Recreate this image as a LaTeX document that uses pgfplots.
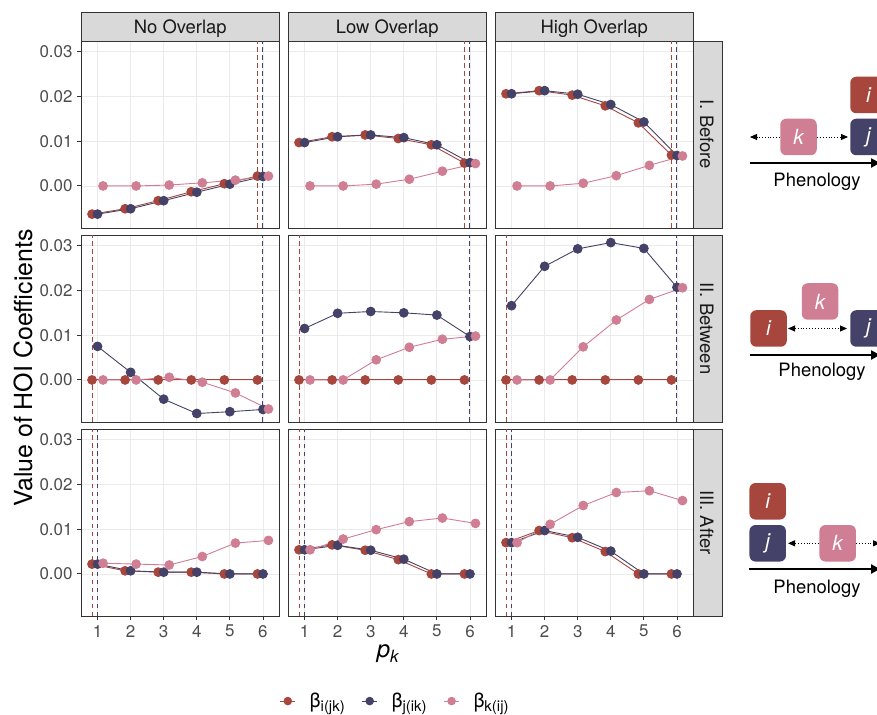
\documentclass[border=0pt]{standalone}
\usepackage{fontspec}
\setmainfont{TeX Gyre Heros}
\usepackage{pgfplots}
\pgfplotsset{compat=1.18}
\usepackage{pgfplotstable}
\usetikzlibrary{arrows.meta}

\definecolor{cI}{RGB}{166,70,60}
\definecolor{cJ}{RGB}{68,66,104}
\definecolor{cK}{RGB}{208,126,148}
\definecolor{gridc}{RGB}{235,235,235}
\definecolor{framec}{RGB}{51,51,51}
\definecolor{stripc}{RGB}{217,217,217}
\definecolor{tickc}{RGB}{77,77,77}

% I. Before
\pgfplotstableread{
x r b k
1 -0.0063 -0.0063 0.0000
2 -0.0051 -0.0051 0.0000
3 -0.0033 -0.0033 0.0002
4 -0.0013 -0.0014 0.0007
5 0.0005 0.0004 0.0013
6 0.0022 0.0021 0.0022
}\tAN
\pgfplotstableread{
x r b k
1 0.0097 0.0097 0.0000
2 0.0110 0.0110 0.0000
3 0.0114 0.0114 0.0004
4 0.0106 0.0108 0.0015
5 0.0092 0.0092 0.0033
6 0.0051 0.0052 0.0050
}\tAL
\pgfplotstableread{
x r b k
1 0.0206 0.0206 0.0000
2 0.0213 0.0213 0.0000
3 0.0203 0.0205 0.0006
4 0.0179 0.0182 0.0023
5 0.0141 0.0143 0.0046
6 0.0069 0.0068 0.0067
}\tAH
% II. Between
\pgfplotstableread{
x r b k
1 0 0.0075 0
2 0 0.0017 0
3 0 -0.0043 0.0006
4 0 -0.0075 -0.0005
5 0 -0.0071 -0.0029
6 0 -0.0066 -0.0065
}\tBN
\pgfplotstableread{
x r b k
1 0 0.0115 0
2 0 0.0149 0
3 0 0.0153 0.0045
4 0 0.0150 0.0073
5 0 0.0145 0.0091
6 0 0.0097 0.0098
}\tBL
\pgfplotstableread{
x r b k
1 0 0.0166 0
2 0 0.0254 0
3 0 0.0293 0.0074
4 0 0.0307 0.0134
5 0 0.0294 0.0180
6 0 0.0207 0.0206
}\tBH
% III. After
\pgfplotstableread{
x r b k
1 0.0022 0.0022 0.0024
2 0.0007 0.0007 0.0022
3 0.0004 0.0004 0.0020
4 0.0004 0.0004 0.0039
5 0 0 0.0069
6 0 0 0.0075
}\tCN
\pgfplotstableread{
x r b k
1 0.0054 0.0054 0.0054
2 0.0065 0.0064 0.0078
3 0.0053 0.0053 0.0099
4 0.0032 0.0033 0.0117
5 0 0 0.0125
6 0 0 0.0113
}\tCL
\pgfplotstableread{
x r b k
1 0.0070 0.0070 0.0070
2 0.0097 0.0097 0.0111
3 0.0081 0.0082 0.0153
4 0.0050 0.0051 0.0182
5 0 0 0.0186
6 0 0 0.0164
}\tCH

\pgfplotsset{
  panel/.style={
    anchor=north west, scale only axis, width=198.5bp, height=187bp,
    xmin=0.5, xmax=6.5, ymin=-0.0094, ymax=0.0324,
    xtick={1,2,3,4,5,6}, ytick={0,0.01,0.02,0.03},
    xticklabels={}, yticklabels={},
    scaled y ticks=false, scaled x ticks=false,
    grid=major, major grid style={draw=gridc, line width=0.8bp},
    axis line style={draw=framec, line width=0.9bp},
    tick align=outside, major tick length=3.8bp,
    xtick pos=lower, ytick pos=left,
    xtick style={draw=none}, ytick style={draw=none},
    /pgf/number format/assume math mode=true,
    ticklabel style={font=\fontsize{17}{17}\selectfont, text=tickc, inner sep=0pt},
    yticklabel style={anchor=east, xshift=-4.5bp},
    xticklabel style={anchor=north, yshift=-5bp},
  },
  leftcol/.style={ytick style={draw=framec, line width=0.9bp}, yticklabels={0.00,0.01,0.02,0.03}},
  bottomrow/.style={xtick style={draw=framec, line width=0.9bp}, xticklabels={1,2,3,4,5,6}},
  sI/.style={color=cI, line width=0.9bp, mark=*, mark size=4.4bp, mark options={solid, fill=cI}},
  sJ/.style={color=cJ, line width=0.9bp, mark=*, mark size=4.4bp, mark options={solid, fill=cJ}},
  sK/.style={color=cK, line width=0.9bp, mark=*, mark size=4.4bp, mark options={solid, fill=cK}},
  vI/.style={color=cI, line width=1bp, dash pattern=on 4.5bp off 3.5bp, forget plot},
  vJ/.style={color=cJ, line width=1bp, dash pattern=on 4.5bp off 3.5bp, forget plot},
}

\newcommand{\panel}[6]{%
\begin{axis}[panel, at={(#1,#2)}, #6]
\addplot[vI] coordinates {(#4,-0.0094) (#4,0.0324)};
\addplot[vJ] coordinates {(#5,-0.0094) (#5,0.0324)};
\addplot[sI] table[x expr=\thisrow{x}-0.1667, y=r] {#3};
\addplot[sJ] table[x=x, y=b] {#3};
\addplot[sK] table[x expr=\thisrow{x}+0.1667, y=k] {#3};
\end{axis}}

\newcommand{\bsub}[1]{\hspace*{14bp}{\fontsize{20}{20}\selectfont β}\raisebox{-3.5bp}{\fontsize{15}{15}\selectfont #1}}

\tikzset{
  box/.style={rounded corners=6bp, minimum width=36.5bp, minimum height=36.5bp, inner sep=0pt,
    text=white, font=\fontsize{21}{21}\selectfont\itshape},
  dar/.style={line width=0.9bp, dotted, {Triangle[length=7bp,width=6bp]}-{Triangle[length=7bp,width=6bp]}},
  rar/.style={line width=0.9bp, dotted, -{Triangle[length=7bp,width=6bp]}},
  phen/.style={line width=2.6bp, -{Triangle[length=9bp,width=9bp]}},
  ptxt/.style={anchor=base, font=\fontsize{18.5}{18.5}\selectfont},
  strip/.style={fill=stripc, draw=framec, line width=0.9bp},
  stxt/.style={anchor=base, font=\fontsize{18.5}{18.5}\selectfont, text=black!90},
}

\begin{document}
\begin{tikzpicture}
\useasboundingbox (0bp,0bp) rectangle (877bp,715bp);

% strips (top)
\foreach \L/\T in {81/No Overlap, 288/Low Overlap, 495/High Overlap}{
  \draw[strip] ({\L*1bp},674bp) rectangle ({\L*1bp+198.5bp},703bp);
  \node[stxt] at ({\L*1bp+99.25bp},681.7bp) {\T};
}
% strips (right)
\foreach \Y/\T in {674/I. Before, 480/II. Between, 286/III. After}{
  \draw[strip] (693.5bp,{\Y*1bp}) rectangle (722bp,{\Y*1bp-187bp});
  \node[stxt, rotate=-90] at (700bp,{\Y*1bp-93.5bp}) {\T};
}

% row I
\panel{81bp}{674bp}{\tAN}{5.833}{6}{leftcol}
\panel{288bp}{674bp}{\tAL}{5.833}{6}{}
\panel{495bp}{674bp}{\tAH}{5.833}{6}{}
% row II
\panel{81bp}{480bp}{\tBN}{0.833}{6}{leftcol}
\panel{288bp}{480bp}{\tBL}{0.833}{6}{}
\panel{495bp}{480bp}{\tBH}{0.833}{6}{}
% row III
\panel{81bp}{286bp}{\tCN}{0.833}{1}{leftcol,bottomrow}
\panel{288bp}{286bp}{\tCL}{0.833}{1}{bottomrow,
  legend entries={{\bsub{i(jk)}\hspace*{17bp}},{\bsub{j(ik)}\hspace*{17bp}},{\bsub{k(ij)}}},
  legend style={at={(0.535,-0.455)}, anchor=center, draw=none, fill=none,
    legend columns=3, text=black,
    nodes={inner sep=0pt}},
  legend image code/.code={\draw[#1, line width=0.9bp] (0bp,0bp) -- (15bp,0bp);
    \fill[#1] (7.5bp,0bp) circle (3.8bp);}}
\panel{495bp}{286bp}{\tCH}{0.833}{1}{bottomrow}

% axis titles
\node[rotate=90, anchor=base, font=\fontsize{25}{25}\selectfont] at (32bp,347bp) {Value of HOI Coefficients};
\node[anchor=base, font=\fontsize{24}{24}\selectfont] at (388bp,57.5bp) {\textit{p}\raisebox{-5bp}{\fontsize{17}{17}\selectfont\textit{k}}};

% diagram I: before
\draw[phen] (750bp,552bp) -- (880bp,552bp);
\node[ptxt] at (817bp,528.4bp) {Phenology};
\node[box, fill=cI] at (868.5bp,620bp) {i};
\node[box, fill=cJ] at (868.5bp,578bp) {j};
\node[box, fill=cK] at (798.5bp,578bp) {k};
\draw[rar] (780bp,578bp) -- (750bp,578bp);
\draw[rar] (817bp,578bp) -- (848bp,578bp);

% diagram II: between
\draw[phen] (750bp,360bp) -- (880bp,360bp);
\node[ptxt] at (822bp,338.4bp) {Phenology};
\node[box, fill=cI] at (768.5bp,386.5bp) {i};
\node[box, fill=cK] at (820bp,413.5bp) {k};
\node[box, fill=cJ] at (868.5bp,386.5bp) {j};
\draw[dar] (788bp,386.5bp) -- (847bp,386.5bp);

% diagram III: after
\draw[phen] (749bp,146bp) -- (880bp,146bp);
\node[ptxt] at (817bp,121.7bp) {Phenology};
\node[box, fill=cI] at (767.7bp,213.7bp) {i};
\node[box, fill=cJ] at (767.7bp,171.7bp) {j};
\node[box, fill=cK] at (837.7bp,171.7bp) {k};
\draw[rar] (819bp,171.7bp) -- (788bp,171.7bp);
\draw[rar] (856bp,171.7bp) -- (880bp,171.7bp);
\end{tikzpicture}
\end{document}
